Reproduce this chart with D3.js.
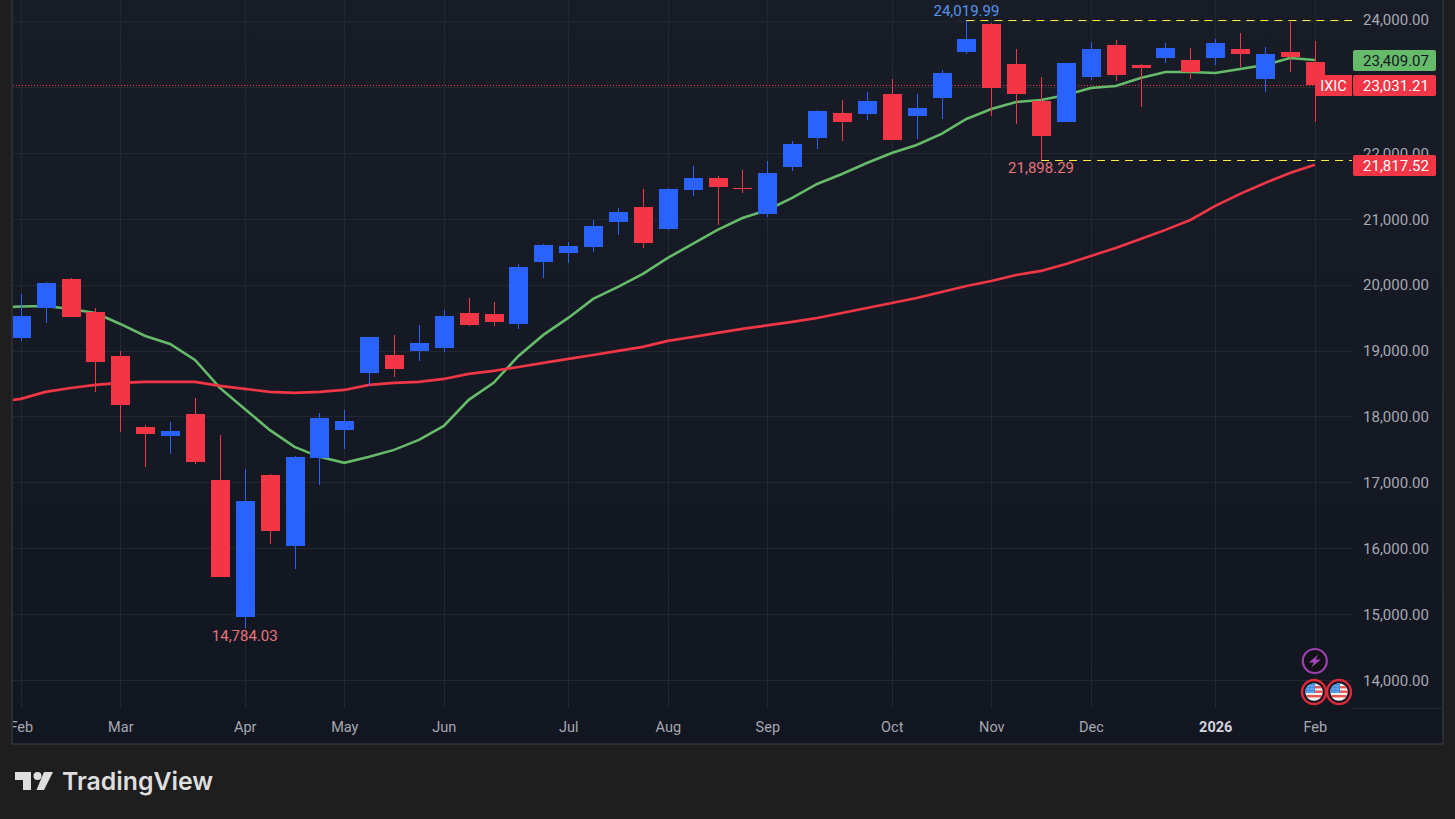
<!DOCTYPE html>
<html>
<head>
<meta charset="utf-8">
<script src="https://cdn.jsdelivr.net/npm/d3@7"></script>
<style>
  html, body { margin: 0; padding: 0; background: #1e1e1e; overflow: hidden; }
  svg { display: block; }
  text { font-family: Roboto, sans-serif; }
</style>
</head>
<body>
<div id="chart"></div>
<script>
const opens = [19191,19646,20086,19585,18918,17841,17705,18038,17037,14958,17113,16036,17371,17795,18660,18933,18994,19039,19570,19555,19403,20344,20481,20572,20951,21178,20845,21436,21618,21467,21072,21785,22225,22604,22589,22893,22559,22832,23530,23955,23348,22786,22468,23150,23636,23333,23439,23408,23439,23575,23120,23530,23378];
const highs = [19859,20041,20101,19646,18994,17871,17917,18281,17720,17204,17128,17401,18053,18099,19206,19237,19388,19616,19798,19737,20314,20617,20647,20981,21163,21451,21467,21800,21649,21740,21876,22180,22650,22802,22923,23120,22893,23257,24019.99,23970,23575,23150,23363,23681,23712,23348,23666,23590,23727,23818,23606,23985,23697];
const lows = [19146,19419,19510,18372,17765,17234,17431,17280,15565,14784.03,16066,15687,16961,17507,18463,18600,18842,18979,19373,19373,19328,20101,20329,20496,20754,20556,20830,21345,20905,21391,21027,21725,22058,22180,22498,22195,22210,22513,23499,22559,22437,21898.29,22468,23105,23090,22695,23363,23120,23333,23302,22923,23226,22468];
const closes = [19525,20025,19510,18827,18175,17735,17780,17310,15565,16718,16263,17386,17978,17932,19206,18721,19115,19525,19388,19434,20268,20602,20587,20890,21102,20632,21451,21618,21482,21451,21694,22134,22635,22468,22786,22195,22680,23211,23727,22984,22893,22256,23363,23575,23181,23287,23590,23226,23666,23499,23499,23454,23031.21];

// moving averages, one extra point in front because the line runs off the left edge
const fastMa = [19650,19668,19676,19631,19570,19403,19221,19100,18857,18432,18114,17795,17538,17386,17295,17386,17492,17644,17856,18251,18509,18918,19237,19494,19783,19965,20162,20405,20617,20830,21011,21133,21315,21527,21679,21846,21998,22119,22286,22513,22665,22771,22802,22877,22984,23014,23135,23226,23226,23211,23272,23333,23439,23409.07];
const slowMa = [18220,18266,18372,18432,18478,18509,18524,18524,18524,18463,18418,18372,18357,18372,18402,18478,18509,18524,18569,18645,18691,18751,18812,18873,18933,18994,19055,19146,19206,19267,19328,19381,19434,19494,19570,19646,19722,19798,19889,19980,20056,20147,20208,20314,20435,20556,20693,20830,20981,21194,21376,21542,21694,21817.52];

const monthIdx = [0,4,9,13,17,22,26,30,35,39,43,48,52];
const monthLabels = ["Feb","Mar","Apr","May","Jun","Jul","Aug","Sep","Oct","Nov","Dec","2026","Feb"];
const priceTicks = [14000,15000,16000,17000,18000,19000,20000,21000,22000,23000,24000];

const lastClose = 23031.21;
const fastLast = 23409.07;
const slowLast = 21817.52;
const swingHigh = {i: 38, v: 24019.99};
const swingLowA = {i: 41, v: 21898.29};
const swingLowB = {i: 9, v: 14784.03};

const upColor = "#2962ff";
const downColor = "#f23645";
const greenColor = "#66bb6a";
const gridColor = "#23272f";
const axisText = "#a6a9b2";

const width = 1455, height = 819;
const plot = {left: 13, right: 1352, top: 0, bottom: 708};

const x = d3.scaleLinear().domain([0, 52]).range([20.8, 1314.8]);
const y = d3.scaleLinear().domain([14000, 24000]).range([680, 21]);

const fmt = d3.format(",.2f");

const svg = d3.select("#chart").append("svg")
    .attr("width", width)
    .attr("height", height);

const defs = svg.append("defs");
const grad = defs.append("linearGradient")
    .attr("id", "panelBg").attr("x1", 0).attr("y1", 0).attr("x2", 0).attr("y2", 1);
grad.append("stop").attr("offset", "0%").attr("stop-color", "#181c27");
grad.append("stop").attr("offset", "100%").attr("stop-color", "#121620");

defs.append("clipPath").attr("id", "plotClip").append("rect")
    .attr("x", plot.left).attr("y", plot.top)
    .attr("width", plot.right - plot.left).attr("height", plot.bottom - plot.top);
defs.append("clipPath").attr("id", "panelClip").append("rect")
    .attr("x", 13).attr("y", 0).attr("width", 1429).attr("height", 743);
defs.append("clipPath").attr("id", "flagClip").append("circle").attr("r", 8.7);

// panel
svg.append("rect").attr("x", 12).attr("y", -2).attr("width", 1431).attr("height", 746)
    .attr("fill", "none").attr("stroke", "#2c2d30").attr("stroke-width", 2);
svg.append("rect").attr("x", 13).attr("y", 0).attr("width", 1429).attr("height", 743)
    .attr("fill", "url(#panelBg)");

// grid
const grid = svg.append("g").attr("clip-path", "url(#plotClip)");
grid.selectAll(".h").data(priceTicks).enter().append("line")
    .attr("x1", plot.left).attr("x2", plot.right)
    .attr("y1", d => Math.round(y(d)) + 0.5).attr("y2", d => Math.round(y(d)) + 0.5)
    .attr("stroke", gridColor);
grid.selectAll(".v").data(monthIdx).enter().append("line")
    .attr("x1", d => Math.round(x(d)) + 0.5).attr("x2", d => Math.round(x(d)) + 0.5)
    .attr("y1", plot.top).attr("y2", plot.bottom)
    .attr("stroke", gridColor);

svg.append("line").attr("x1", 1352).attr("x2", 1442).attr("y1", 708.5).attr("y2", 708.5)
    .attr("stroke", "#23272f");

const chart = svg.append("g").attr("clip-path", "url(#plotClip)");

// last price dotted line
chart.append("line")
    .attr("x1", plot.left).attr("x2", 1316)
    .attr("y1", Math.round(y(lastClose)) + 0.5).attr("y2", Math.round(y(lastClose)) + 0.5)
    .attr("stroke", downColor).attr("stroke-dasharray", "1 2");

// moving averages
const maLine = d3.line().x((d, i) => x(i - 1)).y(d => y(d));
chart.append("path").datum(fastMa).attr("d", maLine)
    .attr("fill", "none").attr("stroke", greenColor).attr("stroke-width", 2.6);
chart.append("path").datum(slowMa).attr("d", maLine)
    .attr("fill", "none").attr("stroke", downColor).attr("stroke-width", 2.6);

// candles
const candles = chart.selectAll(".candle").data(d3.range(closes.length)).enter()
    .append("g").attr("class", "candle")
    .attr("fill", i => closes[i] >= opens[i] ? upColor : downColor);
candles.append("rect")
    .attr("x", i => Math.round(x(i)))
    .attr("width", 1)
    .attr("y", i => Math.round(y(highs[i])))
    .attr("height", i => Math.max(1, Math.round(y(lows[i])) - Math.round(y(highs[i]))));
candles.append("rect")
    .attr("x", i => Math.round(x(i)) - 9)
    .attr("width", 19)
    .attr("y", i => Math.round(y(Math.max(opens[i], closes[i]))))
    .attr("height", i => Math.max(1, Math.round(y(Math.min(opens[i], closes[i]))) - Math.round(y(Math.max(opens[i], closes[i])))));

// high / low guides
svg.append("line")
    .attr("x1", x(swingHigh.i)).attr("x2", plot.right)
    .attr("y1", Math.round(y(swingHigh.v)) + 0.5).attr("y2", Math.round(y(swingHigh.v)) + 0.5)
    .attr("stroke", "#ffeb3b").attr("stroke-dasharray", "8 6");
svg.append("line")
    .attr("x1", x(swingLowA.i)).attr("x2", plot.right)
    .attr("y1", Math.round(y(swingLowA.v)) + 0.5).attr("y2", Math.round(y(swingLowA.v)) + 0.5)
    .attr("stroke", "#ffeb3b").attr("stroke-dasharray", "8 6");

svg.append("text").attr("x", x(swingHigh.i)).attr("y", y(swingHigh.v) - 4)
    .attr("text-anchor", "middle").attr("font-size", 15).attr("fill", "#5594ea")
    .text(fmt(swingHigh.v));
[swingLowA, swingLowB].forEach(s => {
    svg.append("text").attr("x", x(s.i)).attr("y", y(s.v) + 13)
        .attr("text-anchor", "middle").attr("font-size", 15).attr("fill", "#e8747a")
        .text(fmt(s.v));
});

// price axis
const yAxis = d3.axisRight(y).tickValues(priceTicks.filter(d => d !== 23000)).tickFormat(fmt).tickSize(0);
const yAxisG = svg.append("g").attr("transform", "translate(1396,0)").call(yAxis);
yAxisG.select(".domain").remove();
yAxisG.selectAll("text")
    .attr("x", 0).attr("text-anchor", "middle")
    .attr("y", d => d === 24000 ? -1.5 : 0.5)
    .attr("font-size", 15).attr("fill", axisText)
    .style("font-family", "Roboto, sans-serif");

// time axis
const xAxis = d3.axisBottom(x).tickValues(monthIdx)
    .tickFormat((d, i) => monthLabels[i]).tickSize(0);
const xAxisG = svg.append("g").attr("transform", "translate(0,718)")
    .attr("clip-path", "url(#panelClip)").call(xAxis);
xAxisG.select(".domain").remove();
xAxisG.selectAll("text")
    .attr("y", 0).attr("dy", "0.95em")
    .attr("font-size", 14.5).attr("fill", axisText)
    .style("font-family", "Roboto, sans-serif");
xAxisG.selectAll("text").filter(function() { return this.textContent === "2026"; })
    .attr("font-weight", 700).attr("fill", "#d1d4dc");

// price tags
const tags = [
    {v: fastLast, fill: greenColor, color: "#131722"},
    {v: lastClose, fill: downColor, color: "#ffffff"},
    {v: slowLast, fill: downColor, color: "#ffffff"}
];
tags.forEach(t => {
    const cy = Math.round(y(t.v));
    svg.append("rect").attr("x", 1353).attr("y", cy - 10).attr("width", 83).attr("height", 21)
        .attr("rx", 2).attr("fill", t.fill);
    svg.append("text").attr("x", 1396).attr("y", cy + 5.5)
        .attr("text-anchor", "middle").attr("font-size", 15).attr("fill", t.color)
        .text(fmt(t.v));
});
svg.append("rect").attr("x", 1316).attr("y", Math.round(y(lastClose)) - 10)
    .attr("width", 36).attr("height", 21).attr("fill", downColor);
svg.append("text").attr("x", 1333.5).attr("y", Math.round(y(lastClose)) + 5.5)
    .attr("text-anchor", "middle").attr("font-size", 14.5).attr("fill", "#ffffff").text("IXIC");

// event markers
const bolt = svg.append("g").attr("transform", "translate(" + x(52) + ",661)");
bolt.append("circle").attr("r", 12).attr("fill", "#111216")
    .attr("stroke", "#9c3fb0").attr("stroke-width", 2.2);
bolt.append("path").attr("d", "M3.5,-6.5 L-6,1.5 L-1,1.5 L-3.5,6.5 L6,-1.5 L1,-1.5 Z").attr("fill", "#a544bb");

function flag(cx, cy, g) {
    const f = g.append("g").attr("transform", "translate(" + cx + "," + cy + ")");
    f.append("circle").attr("r", 12).attr("fill", "#131722")
        .attr("stroke", "#e0293b").attr("stroke-width", 2.4);
    const inner = f.append("g").attr("clip-path", "url(#flagClip)");
    inner.append("rect").attr("x", -9).attr("y", -9).attr("width", 18).attr("height", 18).attr("fill", "#f4f4f4");
    [-6, -1.5, 3].forEach(d => {
        inner.append("rect").attr("x", -9).attr("y", d).attr("width", 18).attr("height", 2.4).attr("fill", "#ef5350");
    });
    inner.append("rect").attr("x", -9).attr("y", -9).attr("width", 10).attr("height", 10).attr("fill", "#3d8ce0");
    [-6.5, -3.5, -0.5].forEach(a => [-6.5, -3.5, -1.5].forEach(b => {
        inner.append("rect").attr("x", b).attr("y", a).attr("width", 1).attr("height", 1).attr("fill", "#d8e8f8");
    }));
}
flag(1314, 692, svg);
const clipped = svg.append("g");
defs.append("clipPath").attr("id", "flagEdge").append("rect")
    .attr("x", 1300).attr("y", 670).attr("width", 52).attr("height", 40);
clipped.attr("clip-path", "url(#flagEdge)");
flag(1339, 692, clipped);

// logo
const logo = svg.append("g").attr("fill", "#dedede");
logo.append("path").attr("d", "M15,772 H31 V790 H23 V780 H15 Z");
logo.append("circle").attr("cx", 37.5).attr("cy", 776).attr("r", 4);
logo.append("path").attr("d", "M44,772 H53 L44,790 H36.5 Z");
svg.append("text").attr("x", 62).attr("y", 790)
    .attr("font-size", 24.8).attr("font-weight", 600).attr("fill", "#dedede")
    .style("font-family", "Inter, sans-serif")
    .text("TradingView");
</script>
</body>
</html>
